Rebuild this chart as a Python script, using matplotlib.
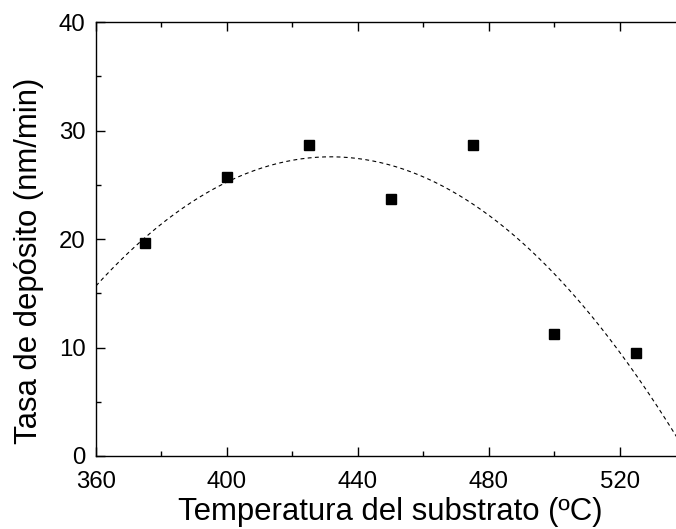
import numpy as np
import matplotlib
matplotlib.use("Agg")
import matplotlib.pyplot as plt
from matplotlib.ticker import MultipleLocator

# Deposition rate vs. substrate temperature
temperature = [375, 400, 425, 450, 475, 500, 525]
rate = [19.6, 25.7, 28.7, 23.7, 28.7, 11.2, 9.5]

plt.rcParams['font.family'] = ['Liberation Sans', 'DejaVu Sans']

fig = plt.figure(figsize=(6.76, 5.29), dpi=100)
ax = fig.add_axes([0.142, 0.138, 0.872, 0.8204])

# quadratic fit drawn as a dashed curve
coef = np.polyfit(temperature, rate, 2)
xs = np.linspace(360, 540, 300)
ax.plot(xs, np.polyval(coef, xs), color='black', lw=0.8,
        linestyle=(0, (3.5, 3)))

ax.plot(temperature, rate, 's', color='black', markersize=6.5, zorder=3)

ax.set_xlim(360, 540)
ax.set_ylim(0, 40)
ax.xaxis.set_major_locator(MultipleLocator(40))
ax.xaxis.set_minor_locator(MultipleLocator(20))
ax.yaxis.set_major_locator(MultipleLocator(10))
ax.yaxis.set_minor_locator(MultipleLocator(5))

ax.tick_params(which='both', direction='in', top=True, right=True, width=1.0)
ax.tick_params(which='major', length=6.5, labelsize=17.3)
ax.tick_params(which='minor', length=3.8)
ax.tick_params(axis='x', which='major', pad=10.5)
ax.tick_params(axis='y', which='major', pad=7.5)
for s in ax.spines.values():
    s.set_linewidth(1.0)

ax.set_xlabel('Temperatura del substrato (ºC)', fontsize=22.4, labelpad=3.5)
ax.set_ylabel('Tasa de depósito (nm/min)', fontsize=22.4)
ax.yaxis.set_label_coords(-0.088, 0.449)

fig.savefig('out.png', dpi=100)
